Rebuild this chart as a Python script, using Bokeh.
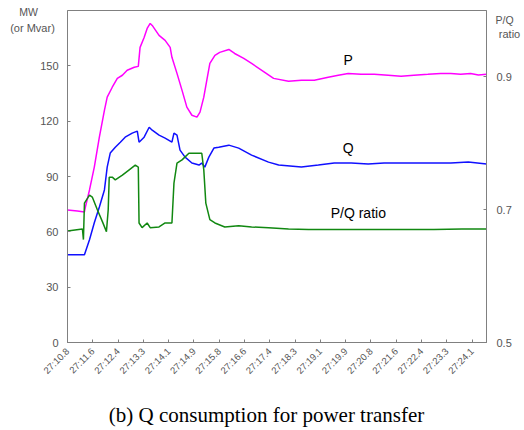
import math
from bokeh.plotting import figure
from bokeh.models import Range1d, LinearAxis, FixedTicker, Label
from bokeh.embed import file_html
from bokeh.resources import INLINE

# time tick labels (index positions 0..16)
tick_labels = ["27:10.8", "27:11.6", "27:12.4", "27:13.3", "27:14.1", "27:14.9",
               "27:15.8", "27:16.6", "27:17.4", "27:18.3", "27:19.1", "27:19.9",
               "27:20.8", "27:21.6", "27:22.4", "27:23.3", "27:24.1"]

# P (MW)
p_x = [0, 0.39, 0.67, 0.71, 0.87, 1.06, 1.26, 1.46, 1.57, 1.77, 1.97, 2.17, 2.36, 2.64, 2.80,
       2.87, 3.03, 3.15, 3.27, 3.35, 3.62, 3.86, 4.06, 4.13, 4.33, 4.53, 4.72, 4.92, 5.12,
       5.24, 5.39, 5.51, 5.63, 5.83, 6.02, 6.38, 6.61, 6.97, 7.28, 7.80, 8.15, 8.74, 9.25,
       9.76, 10.31, 10.71, 11.10, 11.61, 12.13, 12.68, 13.19, 13.70, 14.25, 14.76, 15.16,
       15.55, 15.94, 16.25, 16.57]
p_y = [71.9, 71.3, 70.8, 73.5, 82.7, 95.1, 111.3, 125.9, 133.0, 138.4, 143.2, 144.9, 147.6,
       149.2, 149.7, 160.0, 165.4, 170.3, 173.0, 171.9, 166.5, 163.8, 160.0, 154.6, 145.9,
       136.7, 127.6, 123.2, 122.2, 124.9, 133.0, 142.2, 151.3, 155.7, 157.3, 158.9, 156.7,
       154.0, 151.3, 146.5, 143.2, 141.6, 142.2, 142.2, 143.8, 144.9, 145.9, 145.4, 145.4,
       144.9, 144.3, 144.9, 145.4, 145.9, 145.9, 145.4, 145.9, 145.0, 145.4]

# Q (Mvar)
q_x = [0, 0.67, 0.87, 1.06, 1.26, 1.46, 1.57, 1.69, 1.89, 2.09, 2.28, 2.56, 2.76, 2.83, 3.03,
       3.23, 3.35, 3.62, 3.86, 4.13, 4.21, 4.33, 4.45, 4.65, 4.92, 5.20, 5.31, 5.43, 5.59,
       5.79, 5.98, 6.38, 6.77, 7.28, 7.95, 8.35, 9.25, 9.92, 10.55, 11.22, 11.89, 12.52,
       13.19, 13.86, 14.49, 15.16, 15.85, 16.57]
q_y = [47.6, 47.6, 55.7, 64.9, 73.5, 82.7, 95.1, 102.7, 105.9, 108.6, 111.3, 113.5, 114.6,
       108.6, 111.3, 116.7, 115.1, 112.4, 110.8, 108.6, 113.5, 112.4, 104.3, 100.5, 97.3,
       96.2, 97.3, 95.1, 100.5, 105.4, 105.9, 107.0, 105.4, 101.6, 97.8, 96.2, 95.1, 96.2,
       97.3, 97.3, 96.8, 97.3, 97.3, 97.3, 97.3, 97.3, 97.8, 96.8]

# P/Q ratio (right axis)
r_x = [0, 0.59, 0.63, 0.67, 0.87, 0.98, 1.18, 1.38, 1.54, 1.61, 1.65, 1.77, 1.89, 2.17, 2.44,
       2.68, 2.80, 2.83, 2.95, 3.15, 3.27, 3.62, 3.86, 4.13, 4.21, 4.33, 4.53, 4.80, 5.04,
       5.31, 5.39, 5.47, 5.63, 5.83, 6.22, 6.77, 7.28, 7.95, 8.74, 9.53, 10.55, 11.89,
       13.19, 14.49, 15.60, 16.57]
r_y = [0.668, 0.671, 0.655, 0.710, 0.722, 0.719, 0.700, 0.682, 0.667, 0.700, 0.749, 0.749,
       0.745, 0.752, 0.760, 0.767, 0.764, 0.680, 0.673, 0.680, 0.673, 0.674, 0.680, 0.680,
       0.740, 0.770, 0.775, 0.785, 0.785, 0.785, 0.760, 0.710, 0.685, 0.680, 0.674, 0.676,
       0.674, 0.673, 0.671, 0.670, 0.670, 0.670, 0.670, 0.670, 0.671, 0.671]

left_ticks = [0, 30, 60, 90, 120, 150]
right_ticks = [0.5, 0.7, 0.9]

GRAY = "#808080"
TXT = "#555555"

p = figure(width=524, height=430, output_backend="svg", toolbar_location=None,
           x_range=Range1d(0, 16.57), y_range=Range1d(0, 180))
p.min_border_left = 65
p.min_border_right = 38
p.min_border_top = 10
p.min_border_bottom = 87
p.xgrid.visible = False
p.ygrid.visible = False
p.outline_line_color = GRAY
p.background_fill_color = "white"
p.border_fill_color = "white"

p.extra_y_ranges = {"ratio": Range1d(0.5, 1.0)}

p.line(p_x, p_y, color="#ff00ff", line_width=1.5)
p.line(q_x, q_y, color="#1010ff", line_width=1.5)
p.line(r_x, r_y, color="#118811", line_width=1.5, y_range_name="ratio")

for ax in (p.xaxis[0], p.yaxis[0]):
    ax.axis_line_color = GRAY
    ax.major_tick_line_color = GRAY
    ax.major_tick_in = 3
    ax.major_tick_out = 0
    ax.minor_tick_line_color = None
    ax.major_label_text_font = "Liberation Sans"
    ax.major_label_text_color = TXT

p.yaxis[0].ticker = FixedTicker(ticks=left_ticks)
p.yaxis[0].major_label_text_font_size = "11px"
p.yaxis[0].major_label_standoff = 9

p.xaxis[0].ticker = FixedTicker(ticks=list(range(len(tick_labels))))
p.xaxis[0].major_label_overrides = {i: t for i, t in enumerate(tick_labels)}
p.xaxis[0].major_label_orientation = math.pi / 4
p.xaxis[0].major_label_text_font_size = "9.5px"
p.xaxis[0].major_label_standoff = 7

rax = LinearAxis(y_range_name="ratio", ticker=FixedTicker(ticks=right_ticks))
rax.axis_line_color = GRAY
rax.major_tick_line_color = GRAY
rax.major_tick_in = 3
rax.major_tick_out = 0
rax.minor_tick_line_color = None
rax.major_label_text_font = "Liberation Sans"
rax.major_label_text_color = TXT
rax.major_label_text_font_size = "11px"
rax.major_label_standoff = 10
p.add_layout(rax, "right")

def lab(x, y, text, size, color="black", font="Liberation Sans"):
    l = Label(x=x, y=y, text=text, text_font=font, text_font_size=size,
              text_color=color, text_align="center", text_baseline="middle")
    p.add_layout(l)

def plab(place, x, y, text, size, color=TXT, font="Liberation Sans"):
    l = Label(x=x, y=y, x_units="screen", y_units="screen", text=text,
              text_font=font, text_font_size=size,
              text_color=color, text_align="center", text_baseline="middle")
    p.add_layout(l, place)

lab(11.1, 153.0, "P", "14px")
lab(11.1, 105.4, "Q", "14px")
lab(11.5, 70.3, "P/Q ratio", "14px")

# texts outside the frame (placed in side panels, positions relative to each panel)
plab("left", 10, 331, "MW", "10.5px")
plab("left", 504, 323, "P/Q", "10.5px")
plab("below", -35, 367, "(or Mvar)", "11px")
plab("below", 442, 373, "ratio", "11px")
plab("below", 199, 16, "(b) Q consumption for power transfer", "21px", "black", "Liberation Serif")

open("out.html", "w").write(file_html(p, INLINE))
